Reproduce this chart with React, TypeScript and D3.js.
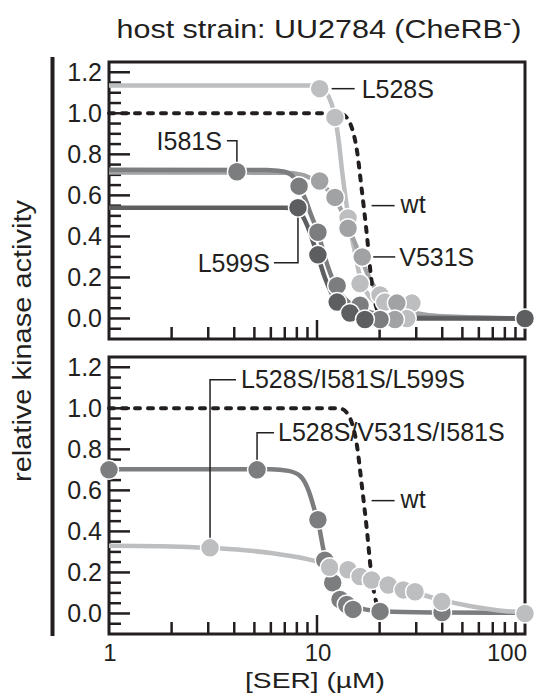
import * as d3 from "d3";

type Pt = [number, number];

// axis ticks
const xTickValues = [1, 10, 100];
const xTickLabels = ["1", "10", "100"];
const xMinorTicks = [2, 3, 4, 5, 6, 7, 8, 9, 20, 30, 40, 50, 60, 70, 80, 90];
const yTickValues = [0, 0.2, 0.4, 0.6, 0.8, 1.0, 1.2];
const yTickLabels = ["0.0", "0.2", "0.4", "0.6", "0.8", "1.0", "1.2"];

// wild type fit, same in both panels
const wtFit: Pt[] = [
  [1, 1.0], [12, 1.0], [13, 0.998], [14, 0.975], [14.8, 0.92], [15.5, 0.83],
  [16.4, 0.63], [17.4, 0.4], [18.2, 0.2], [19, 0.08], [20, 0.02],
];
const wtLabelAt: Pt = [18.3, 0.55];

// top panel: single mutants
const l528sFit: Pt[] = [
  [1, 1.135], [9.5, 1.135], [10.5, 1.12], [11.4, 1.08], [12.1, 1.0], [12.7, 0.87],
  [13.2, 0.72], [13.8, 0.57], [14.5, 0.43], [15.3, 0.31], [16.2, 0.19], [17.5, 0.12],
  [20, 0.065], [25, 0.035], [35, 0.015], [100, 0.0],
];
const l528sPts: Pt[] = [
  [10.3, 1.12], [12.2, 0.98], [14.1, 0.49], [16.1, 0.17], [20.1, 0.115], [21.2, 0.08],
  [28.6, 0.075], [27, 0.0],
];
const v531sFit: Pt[] = [
  [1, 0.712], [7, 0.71], [8.5, 0.7], [9.5, 0.68], [10.3, 0.66], [11.2, 0.63],
  [12.2, 0.585], [13.2, 0.52], [14.1, 0.45], [15.2, 0.37], [16.5, 0.28], [18, 0.19],
  [20, 0.12], [23, 0.07], [28, 0.035], [40, 0.01], [100, 0.0],
];
const v531sPts: Pt[] = [
  [10.3, 0.67], [12.2, 0.59], [14.1, 0.44], [16.5, 0.3], [24.2, 0.075], [23.7, -0.005],
];
const i581sFit: Pt[] = [
  [1, 0.725], [6, 0.723], [7, 0.715], [7.7, 0.69], [8.2, 0.645], [8.8, 0.58],
  [9.4, 0.5], [10.1, 0.42], [10.9, 0.3], [11.8, 0.2], [12.8, 0.13], [14, 0.085],
  [16, 0.05], [20, 0.02], [30, 0.005], [100, 0.0],
];
const i581sPts: Pt[] = [
  [4.12, 0.715], [8.2, 0.645], [10.1, 0.42], [12.5, 0.16], [16.1, 0.065], [20.1, -0.005],
];
const l599sFit: Pt[] = [
  [1, 0.54], [7, 0.54], [7.8, 0.535], [8.4, 0.51], [9, 0.45], [9.6, 0.37],
  [10.1, 0.305], [10.9, 0.2], [11.8, 0.12], [12.7, 0.07], [14, 0.03], [16, 0.01],
  [20, 0.0], [100, 0.0],
];
const l599sPts: Pt[] = [
  [8.1, 0.54], [10.1, 0.31], [12.5, 0.08], [14.4, 0.027], [17, -0.005], [100, 0.0],
];

// bottom panel: triple mutants
const tripleBFit: Pt[] = [
  [1, 0.703], [6, 0.703], [7.3, 0.695], [8.3, 0.67], [9.1, 0.6], [9.7, 0.51],
  [10.2, 0.43], [10.8, 0.3], [11.5, 0.2], [12.3, 0.13], [13.3, 0.075], [14.5, 0.045],
  [17, 0.02], [22, 0.01], [40, 0.005], [100, 0.003],
];
const tripleBPts: Pt[] = [
  [1, 0.7], [5.15, 0.7], [10.1, 0.457], [10.9, 0.26], [11.9, 0.15], [12.9, 0.068],
  [13.9, 0.044], [14.9, 0.02], [20.1, 0.01], [39.9, 0.005],
];
const tripleAFit: Pt[] = [
  [1, 0.33], [2, 0.327], [3, 0.32], [4.5, 0.308], [6, 0.295], [7.5, 0.28], [9, 0.265],
  [10.5, 0.248], [12, 0.23], [14, 0.21], [16.5, 0.185], [19, 0.16], [22, 0.14],
  [26, 0.117], [30, 0.1], [40, 0.065], [55, 0.035], [75, 0.015], [100, 0.005],
];
const tripleAPts: Pt[] = [
  [3.06, 0.32], [11.5, 0.225], [14.1, 0.213], [16.1, 0.18], [18.3, 0.163], [22, 0.139],
  [26, 0.115], [29.6, 0.106], [39.8, 0.058], [100, 0.0],
];

const INK = "#231f20";
const LIGHT = "#bdbec0";
const MID = "#a1a2a4";
const DARK = "#7c7d7f";
const DARKEST = "#5d5e60";
const FONT = "'Liberation Sans', Arial, Helvetica, sans-serif";

interface Series {
  color: string;
  fit: Pt[];
  pts: Pt[];
}

const topSeries: Series[] = [
  { color: LIGHT, fit: l528sFit, pts: l528sPts },
  { color: MID, fit: v531sFit, pts: v531sPts },
  { color: DARK, fit: i581sFit, pts: i581sPts },
  { color: DARKEST, fit: l599sFit, pts: l599sPts },
];
const bottomSeries: Series[] = [
  { color: DARK, fit: tripleBFit, pts: tripleBPts },
  { color: LIGHT, fit: tripleAFit, pts: tripleAPts },
];

const left = 109;
const right = 525;
const x = d3.scaleLog().domain([1, 100]).range([left, right]);

function Panel({
  top,
  bottom,
  series,
  notes,
  showX,
}: {
  top: number;
  bottom: number;
  series: Series[];
  notes: (y: d3.ScaleLinear<number, number>) => any;
  showX: boolean;
}) {
  const y = d3.scaleLinear().domain([-0.1, 1.25]).range([bottom, top]);
  const line = d3
    .line<Pt>()
    .x((d) => x(d[0]))
    .y((d) => y(d[1]))
    .curve(d3.curveMonotoneX);
  const yMinor = d3.range(-0.05, 1.24, 0.05).filter((v) => Math.abs(v * 5 - Math.round(v * 5)) > 0.01);
  const wl = [x(wtLabelAt[0]), y(wtLabelAt[1])];

  return (
    <g>
      <rect x={left} y={top} width={right - left} height={bottom - top} fill="none" stroke={INK} strokeWidth={3} />
      {yTickValues.map((v) => (
        <line key={"ym" + v} x1={left} x2={left + 21} y1={y(v)} y2={y(v)} stroke={INK} strokeWidth={2.5} />
      ))}
      {yMinor.map((v) => (
        <line key={"yn" + v} x1={left} x2={left + 12} y1={y(v)} y2={y(v)} stroke={INK} strokeWidth={2.5} />
      ))}
      {yTickValues.map((v, i) => (
        <text key={"yl" + v} x={102} y={y(v) + 9} textAnchor="end" fontSize={25} fill={INK}>
          {yTickLabels[i]}
        </text>
      ))}
      {xMinorTicks.map((v) => (
        <line key={"xn" + v} x1={x(v)} x2={x(v)} y1={bottom} y2={bottom - 12} stroke={INK} strokeWidth={2.5} />
      ))}
      <line x1={x(10)} x2={x(10)} y1={bottom} y2={bottom - 19} stroke={INK} strokeWidth={2.5} />
      {showX &&
        xTickValues.map((v, i) => (
          <text
            key={"xl" + v}
            x={i === 2 ? x(v) + 2 : x(v) + 1}
            y={bottom + 27}
            textAnchor={i === 2 ? "end" : "middle"}
            fontSize={24}
            fill={INK}
          >
            {xTickLabels[i]}
          </text>
        ))}
      {series.map((s, i) => (
        <path key={"f" + i} d={line(s.fit) || ""} fill="none" stroke={s.color} strokeWidth={4.5} />
      ))}
      <path
        d={line(wtFit) || ""}
        fill="none"
        stroke={INK}
        strokeWidth={4}
        strokeDasharray="5 8"
        strokeLinecap="round"
      />
      {series.map((s, i) =>
        s.pts.map((p, j) => (
          <circle key={"p" + i + "-" + j} cx={x(p[0])} cy={y(p[1])} r={9.5} fill={s.color} stroke="#fff" strokeWidth={1.5} />
        ))
      )}
      <line x1={wl[0]} x2={wl[0] + 23} y1={wl[1]} y2={wl[1]} stroke={INK} strokeWidth={1.5} />
      <text x={wl[0] + 29} y={wl[1] + 7} fontSize={25} fill={INK}>
        wt
      </text>
      {notes(y)}
    </g>
  );
}

function topNotes(y: d3.ScaleLinear<number, number>) {
  const a = [x(l528sPts[0][0]), y(l528sPts[0][1])];
  const b = [x(v531sPts[3][0]), y(v531sPts[3][1])];
  const c = [x(i581sPts[0][0]), y(i581sPts[0][1])];
  const d = [x(l599sPts[0][0]), y(l599sPts[0][1])];
  return (
    <g fill="none" stroke={INK} strokeWidth={1.5}>
      <line x1={a[0] + 12} x2={a[0] + 35} y1={a[1]} y2={a[1]} />
      <text x={a[0] + 42} y={a[1] + 9} fontSize={25} fill={INK} stroke="none">L528S</text>
      <line x1={b[0] + 11} x2={b[0] + 33} y1={b[1]} y2={b[1]} />
      <text x={b[0] + 37} y={b[1] + 9} fontSize={25} fill={INK} stroke="none">V531S</text>
      <path d={`M${c[0] - 10},${c[1] - 31}H${c[0]}V${c[1] - 10}`} />
      <text x={c[0] - 15} y={c[1] - 22} textAnchor="end" fontSize={25} fill={INK} stroke="none">I581S</text>
      <path d={`M${d[0]},${d[1] + 10}V${d[1] + 55}H${d[0] - 24}`} />
      <text x={d[0] - 28} y={d[1] + 64} textAnchor="end" fontSize={25} fill={INK} stroke="none">L599S</text>
    </g>
  );
}

function bottomNotes(y: d3.ScaleLinear<number, number>) {
  const a = [x(tripleAPts[0][0]), y(tripleAPts[0][1])];
  const b = [x(tripleBPts[1][0]), y(tripleBPts[1][1])];
  return (
    <g fill="none" stroke={INK} strokeWidth={1.5}>
      <path d={`M${a[0]},${a[1] - 10}V${a[1] - 168}H${a[0] + 26}`} />
      <text x={a[0] + 31} y={a[1] - 160} fontSize={25} fill={INK} stroke="none">L528S/I581S/L599S</text>
      <path d={`M${b[0]},${b[1] - 10}V${b[1] - 37}H${b[0] + 17}`} />
      <text x={b[0] + 21} y={b[1] - 29} fontSize={25} fill={INK} stroke="none">L528S/V531S/I581S</text>
    </g>
  );
}

export default function App() {
  return (
    <svg
      width={534}
      height={700}
      style={{ position: "absolute", left: 0, top: 0, background: "#fff" }}
      fontFamily={FONT}
    >
      <text x={319} y={38} textAnchor="middle" fontSize={26} fill={INK} textLength={405} lengthAdjust="spacingAndGlyphs">
        host strain: UU2784 (CheRB
        <tspan dy={-8} fontSize={22}>-</tspan>
        <tspan dy={8}>)</tspan>
      </text>
      <line x1={52.5} x2={52.5} y1={57} y2={636} stroke={INK} strokeWidth={4} />
      <text
        transform="translate(31,341) rotate(-90)"
        textAnchor="middle"
        fontSize={25}
        fill={INK}
        textLength={282}
        lengthAdjust="spacingAndGlyphs"
      >
        relative kinase activity
      </text>
      <Panel top={62} bottom={339} series={topSeries} notes={topNotes} showX={false} />
      <Panel top={357} bottom={634} series={bottomSeries} notes={bottomNotes} showX={true} />
      <text x={315} y={688} textAnchor="middle" fontSize={22} fill={INK} textLength={140} lengthAdjust="spacingAndGlyphs">
        [SER] (µM)
      </text>
    </svg>
  );
}
